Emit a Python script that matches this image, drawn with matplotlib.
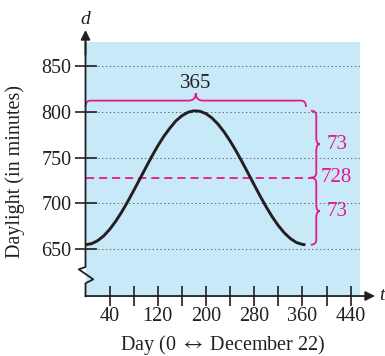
import numpy as np
import matplotlib
matplotlib.use("Agg")
import matplotlib.pyplot as plt
from matplotlib.path import Path
from matplotlib.patches import PathPatch
from matplotlib.lines import Line2D

plt.rcParams['font.family'] = ['Liberation Serif', 'DejaVu Serif']
plt.rcParams['mathtext.fontset'] = 'stix'
plt.rcParams['lines.scale_dashes'] = False

# curve (day, minutes of daylight)
days = [0, 10, 20, 30, 40, 50, 60, 70, 80, 90, 100, 110, 120, 130, 140,
        150, 160, 170, 180, 190, 200, 210, 220, 230, 240, 250, 260, 270,
        280, 290, 300, 310, 320, 330, 340, 350, 360, 365]
daylight = [655.0, 656.1, 659.3, 664.5, 671.6, 680.4, 690.6, 701.9, 714.0,
            726.4, 738.9, 751.2, 762.7, 773.1, 782.0, 789.9, 795.5, 799.3,
            800.9, 800.4, 797.8, 793.0, 786.3, 777.9, 768.0, 757.0, 745.1,
            732.7, 720.2, 707.8, 696.1, 685.3, 675.8, 667.9, 661.7, 657.4,
            655.3, 655.0]

x_ticks = [40, 80, 120, 160, 200, 240, 280, 320, 360, 400, 440]
x_labels = ['40', '', '120', '', '200', '', '280', '', '360', '', '440']
y_ticks = [650, 700, 750, 800, 850]

mean_val = 728
amp = 73
period = 365

PINK = '#E5198C'
BLUE = '#C8E9F8'
INK = '#231F20'

fig = plt.figure(figsize=(3.85, 3.56), dpi=100)
ax = fig.add_axes([0.2221, 0.1685, 0.713, 0.7126])
ax.set_facecolor(BLUE)
ax.set_xlim(0, 455.6)
ax.set_ylim(599.1, 875.5)
for s in ax.spines.values():
    s.set_visible(False)

# dotted grid
for yv in y_ticks:
    ax.axhline(yv, color='#666666', lw=0.7, linestyle=(0, (1, 1.8)), zorder=1)

# curve
ax.plot(days, daylight, color=INK, lw=2.1, zorder=3,
        solid_capstyle='butt', solid_joinstyle='round')

# dashed mean line
ax.plot([0, 374], [mean_val, mean_val], color=PINK, lw=1.3,
        dashes=(5.8, 3.6), zorder=2)


def hbrace(ax, x0, x1, y, yend, ytip, r=8, r2=12):
    xm = (x0 + x1) / 2
    verts = [(x0, yend), (x0, y), (x0 + r, y), (xm - r2, y),
             (xm, y), (xm, ytip), (xm, y), (xm + r2, y),
             (x1 - r, y), (x1, y), (x1, yend)]
    codes = [Path.MOVETO, Path.CURVE3, Path.CURVE3, Path.LINETO,
             Path.CURVE3, Path.CURVE3, Path.CURVE3, Path.CURVE3,
             Path.LINETO, Path.CURVE3, Path.CURVE3]
    ax.add_patch(PathPatch(Path(verts, codes), fc='none', ec=PINK, lw=1.3,
                           clip_on=False, zorder=4))


def vbrace(ax, y0, y1, x, xend, xtip, r=5.5, r2=7):
    ym = (y0 + y1) / 2
    verts = [(xend, y0), (x, y0), (x, y0 - r), (x, ym + r2),
             (x, ym), (xtip, ym), (x, ym), (x, ym - r2),
             (x, y1 + r), (x, y1), (xend, y1)]
    codes = [Path.MOVETO, Path.CURVE3, Path.CURVE3, Path.LINETO,
             Path.CURVE3, Path.CURVE3, Path.CURVE3, Path.CURVE3,
             Path.LINETO, Path.CURVE3, Path.CURVE3]
    ax.add_patch(PathPatch(Path(verts, codes), fc='none', ec=PINK, lw=1.3,
                           clip_on=False, zorder=4))


hbrace(ax, 0, period + 1, 812, 805, 820)
ax.text(period / 2, 831, str(period), ha='center', va='center',
        fontsize=15, color=INK)

vbrace(ax, mean_val + amp, mean_val, 383, 374, 389)
vbrace(ax, mean_val, mean_val - amp, 383, 374, 389)
ax.text(400, mean_val + amp / 2, str(amp), ha='left', va='center',
        fontsize=15, color=PINK)
ax.text(390, mean_val, str(mean_val), ha='left', va='center',
        fontsize=15, color=PINK)
ax.text(400, mean_val - amp / 2, str(amp), ha='left', va='center',
        fontsize=15, color=PINK)

# ticks
ax.set_xticks(x_ticks)
ax.set_xticklabels(x_labels)
ax.set_yticks(y_ticks)
ax.tick_params(axis='x', direction='inout', length=14, width=1.2,
               colors=INK, labelsize=14.5, pad=1)
ax.tick_params(axis='y', direction='inout', length=16, width=1.2,
               colors=INK, labelsize=14.5, pad=2)

# x axis with arrow
ax.annotate('', xy=(1.0546, 0), xytext=(0, 0), xycoords='axes fraction',
            arrowprops=dict(arrowstyle='-|>', color=INK, lw=1.3,
                            mutation_scale=14, shrinkA=0, shrinkB=0))
# y axis with break and arrow
zx = [0, 0, 0.0281, -0.0245, 0, 0]
zy = [-0.001, 0.0501, 0.0658, 0.1052, 0.1143, 1.0]
ax.add_line(Line2D(zx, zy, transform=ax.transAxes, color=INK,
                   lw=1.3, clip_on=False, zorder=5))
ax.annotate('', xy=(0, 1.0485), xytext=(0, 0.95), xycoords='axes fraction',
            arrowprops=dict(arrowstyle='-|>', color=INK, lw=1.3,
                            mutation_scale=14, shrinkA=0, shrinkB=0))

fig.text(379 / 385, 1 - 296 / 356, 't', style='italic', fontsize=14,
         ha='left', va='center', color=INK)
fig.text(85.5 / 385, 1 - 19 / 356, 'd', style='italic', fontsize=14,
         ha='center', va='center', color=INK)

fig.text(223 / 385, 1 - 345 / 356, 'Day (0 $\\leftrightarrow$ December 22)',
         fontsize=14.5, ha='center', va='center', color=INK)
fig.text(15 / 385, 1 - 171 / 356, 'Daylight (in minutes)', fontsize=14.5,
         rotation=90, ha='center', va='center', color=INK)

fig.savefig('out.png', dpi=100)
